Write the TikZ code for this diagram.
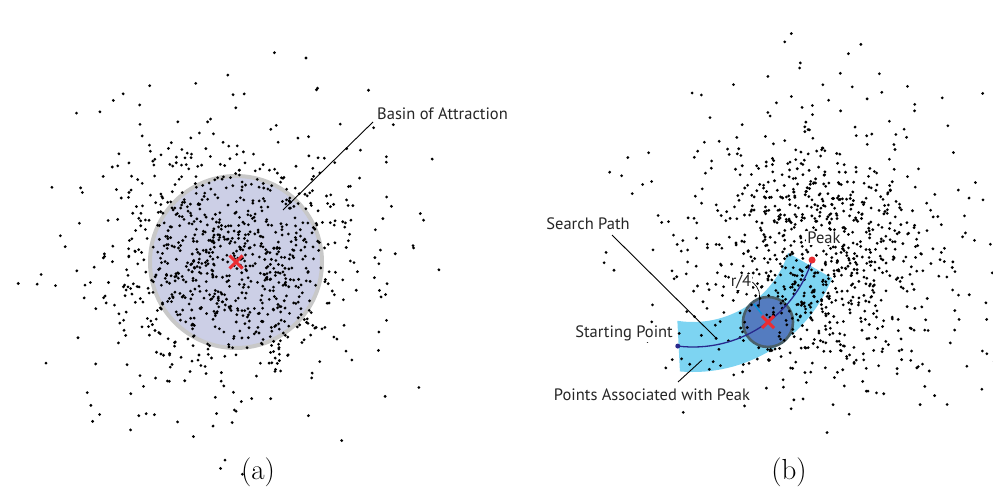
\documentclass[tikz,border=0pt]{standalone}
\usepackage{fontspec}
\setsansfont{PT Sans}
\usetikzlibrary{positioning}

\definecolor{basinfill}{RGB}{204,207,230}
\definecolor{basinrim}{RGB}{200,200,200}
\definecolor{bandblue}{RGB}{125,212,242}
\definecolor{kernelblue}{RGB}{84,124,192}
\definecolor{kernelrim}{RGB}{74,96,106}
\definecolor{pathblue}{RGB}{40,40,140}
\definecolor{peakred}{RGB}{235,45,50}

\tikzset{
	label text/.style={font=\sffamily\fontsize{16.5}{18}\selectfont,text=black!85,
		fill=white,inner sep=1pt},
	leader/.style={draw=black,line width=0.9pt},
	cross/.style={draw=peakred,line width=3pt},
	caption text/.style={font=\fontsize{29}{32}\selectfont}
}

\begin{document}
\begin{tikzpicture}[x=1pt,y=-1pt]
	\useasboundingbox (0,0) rectangle (993,489);
	
	% (a) basin of attraction
	\fill[basinfill,draw=basinrim,line width=4pt] (236,262) circle (86);
	\pgfmathsetseed{1234}
	\foreach \i in {1,...,950}{
		\pgfmathsetmacro{\ra}{sqrt(-2*ln(0.002+0.998*rnd))}
		\pgfmathsetmacro{\an}{360*rnd}
		\pgfmathsetmacro{\px}{236+64*\ra*cos(\an)}
		\pgfmathsetmacro{\py}{262+62*\ra*sin(\an)}
		\fill (\px,\py) circle (1.55);
	}
	% a few stray points far out
	\foreach \i in {1,...,40}{
		\pgfmathsetmacro{\ra}{1.6+1.4*rnd}
		\pgfmathsetmacro{\an}{360*rnd}
		\pgfmathsetmacro{\px}{236+75*\ra*cos(\an)}
		\pgfmathsetmacro{\py}{262+72*\ra*sin(\an)}
		\fill (\px,\py) circle (1.55);
	}
	\draw[cross] (229.5,255.5) -- (242.5,268.5) (229.5,268.5) -- (242.5,255.5);
	
	\coordinate (basin tip) at (283,210);
	\node[label text,anchor=west] (basin) at (376,114) {Basin of Attraction};
	\draw[leader] (basin tip) -- (373,122);
	
	% (b) search path
	\coordinate (arc c) at (693,222);
	\fill[bandblue] ([shift={(99:100)}]arc c) arc[start angle=99,end angle=18,radius=100]
		-- ([shift={(22:150)}]arc c) arc[start angle=22,end angle=95,radius=150] -- cycle;
	\fill[kernelblue,draw=kernelrim,line width=2.6pt] (768,322) circle (25);
	\pgfmathsetseed{4321}
	\foreach \i in {1,...,950}{
		\pgfmathsetmacro{\ra}{sqrt(-2*ln(0.002+0.998*rnd))}
		\pgfmathsetmacro{\an}{360*rnd}
		\pgfmathsetmacro{\px}{820+64*\ra*cos(\an)}
		\pgfmathsetmacro{\py}{252+66*\ra*sin(\an)}
		\fill (\px,\py) circle (1.55);
	}
	\foreach \i in {1,...,40}{
		\pgfmathsetmacro{\ra}{1.6+1.4*rnd}
		\pgfmathsetmacro{\an}{360*rnd}
		\pgfmathsetmacro{\px}{820+72*\ra*cos(\an)}
		\pgfmathsetmacro{\py}{252+72*\ra*sin(\an)}
		\fill (\px,\py) circle (1.55);
	}
	\coordinate (start) at ([shift={(97:125)}]arc c);
	\coordinate (peak) at ([shift={(17.7:125)}]arc c);
	\draw[pathblue,line width=1.3pt] (start) arc[start angle=97,end angle=17.7,radius=125];
	\fill[pathblue] (start) circle (2.5);
	\fill[peakred] (peak) circle (3.5);
	\draw[cyan!80!blue,line width=1.4pt] ([shift={(232:23)}]768,322) -- ([shift={(232:10)}]768,322);
	\draw[cross] (762,316) -- (774,328) (762,328) -- (774,316);
	
	\node[label text] (search) at (588,224) {Search Path};
	\node[label text,anchor=east] (starting) at (674,333) {Starting Point};
	\node[label text] (points) at (652,395) {Points Associated with Peak};
	\node[label text] (peak label) at (824,238) {Peak};
	\node[label text] (quarter) at (741,282) {r/4};
	\coordinate (search tip) at (717,339);
	\coordinate (band tip) at (702,360);
	\draw[leader] (612,235) -- (search tip);
	\draw[leader] (band tip) -- (678,382);
	\draw[line width=0.7pt] (quarter.east) .. controls (760,290) .. (759,308);
	
	\node[caption text] (cap a) at (258,472) {(a)};
	\node[caption text] (cap b) at (789,472) {(b)};
\end{tikzpicture}
\end{document}
